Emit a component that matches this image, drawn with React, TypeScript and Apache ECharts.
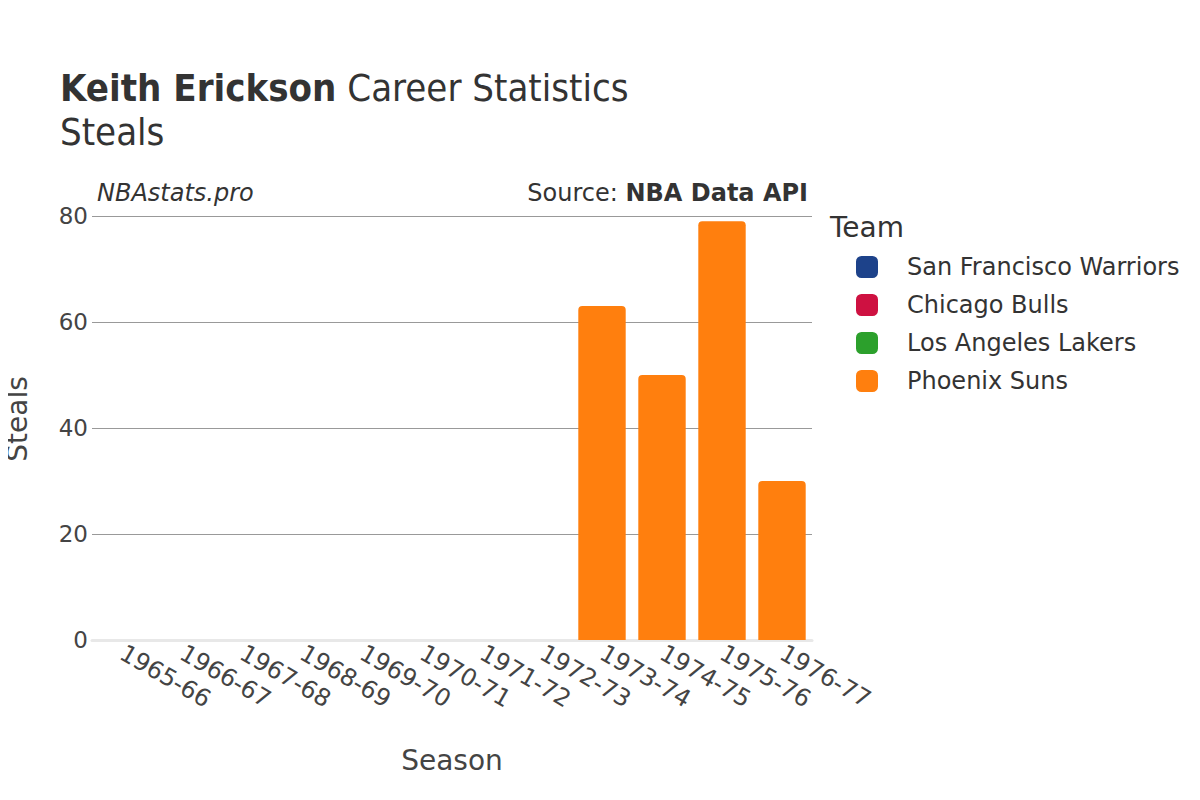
import React, { useEffect, useRef } from "react";
import * as echarts from "echarts";

const seasons = ["1965-66", "1966-67", "1967-68", "1968-69", "1969-70", "1970-71", "1971-72", "1972-73", "1973-74", "1974-75", "1975-76", "1976-77"];
const teams = ["San Francisco Warriors", "Chicago Bulls", "Los Angeles Lakers", "Phoenix Suns"];
const teamColors = ["#1d428a", "#ce1141", "#2ca02c", "#ff7f0e"];
const warriorsSteals = [0, null, null, null, null, null, null, null, null, null, null, null];
const bullsSteals = [null, 0, null, null, null, null, null, null, null, null, null, null];
const lakersSteals = [null, null, 0, 0, 0, 0, 0, 0, null, null, null, null];
const sunsSteals = [null, null, null, null, null, null, null, null, 63, 50, 79, 30];
const yTicks = [0, 20, 40, 60, 80];

const FONT = "DejaVu Sans";
const TFONT = "DejaVu Sans Condensed";

export default function App() {
  const ref = useRef<HTMLDivElement>(null);
  useEffect(() => {
    if (!ref.current) return;
    const chart = echarts.init(ref.current, undefined, { renderer: "svg" });
    const dataSets = [warriorsSteals, bullsSteals, lakersSteals, sunsSteals];
    chart.setOption({
      animation: false,
      textStyle: { fontFamily: FONT },
      title: {
        left: 60,
        top: 66,
        padding: 0,
        text: "{b|Keith Erickson}{n| Career Statistics}\n{n|Steals}",
        textStyle: {
          rich: {
            b: { fontFamily: TFONT, fontWeight: "bold", fontSize: 38, color: "#333", lineHeight: 44 },
            n: { fontFamily: TFONT, fontWeight: "normal", fontSize: 38, color: "#333", lineHeight: 44 },
          },
        },
      },
      legend: {
        orient: "vertical",
        left: 851,
        top: 250,
        itemWidth: 22,
        itemHeight: 22,
        itemGap: 14,
        icon: "roundRect",
        data: teams,
        textStyle: { fontFamily: FONT, fontSize: 24, color: "#333", padding: [0, 0, 0, 24] },
      },
      graphic: [
        { type: "text", left: 830, top: 213, style: { text: "Team", font: `28px "${FONT}"`, fill: "#333" } },
        { type: "text", left: 97, top: 181, style: { text: "NBAstats.pro", font: `italic 24px "${FONT}"`, fill: "#333" } },
        {
          type: "text",
          right: 392,
          top: 181,
          style: {
            text: "{n|Source: }{b|NBA Data API}",
            rich: {
              n: { fontFamily: FONT, fontSize: 24, fill: "#333" },
              b: { fontFamily: FONT, fontSize: 24, fontWeight: "bold", fill: "#333" },
            },
          },
        },
        {
          type: "text",
          x: 17,
          y: 419,
          rotation: Math.PI / 2,
          style: { text: "Steals", font: `28px "${FONT}"`, fill: "#444", align: "center", verticalAlign: "middle" },
        },
      ],
      grid: { left: 92, right: 388, top: 216, bottom: 160, outerBoundsMode: "none", containLabel: false },
      xAxis: {
        type: "category",
        data: seasons,
        name: "Season",
        nameLocation: "middle",
        nameGap: 106,
        nameTextStyle: { fontFamily: FONT, fontSize: 28, color: "#444" },
        axisLine: { show: true, lineStyle: { color: "#e8e8e8", width: 3 } },
        axisTick: { show: false },
        axisLabel: { rotate: -30, fontFamily: FONT, fontSize: 24, color: "#444", margin: 11, interval: 0 },
      },
      yAxis: {
        type: "value",
        min: 0,
        max: 80,
        interval: 20,
        axisLabel: {
          fontFamily: FONT,
          fontSize: 23,
          color: "#444",
          margin: 4,
          formatter: (v: number) => (yTicks.includes(v) ? String(v) : ""),
        },
        splitLine: { lineStyle: { color: "#999", width: 1 } },
        axisLine: { show: false },
        axisTick: { show: false },
      },
      series: teams.map((t, i) => ({
        name: t,
        type: "bar",
        stack: "total",
        data: dataSets[i],
        barCategoryGap: "21%",
        itemStyle: { color: teamColors[i], borderRadius: [4, 4, 0, 0] },
      })),
    });
    return () => chart.dispose();
  }, []);
  return <div ref={ref} style={{ width: 1200, height: 800, margin: -8 }} />;
}
